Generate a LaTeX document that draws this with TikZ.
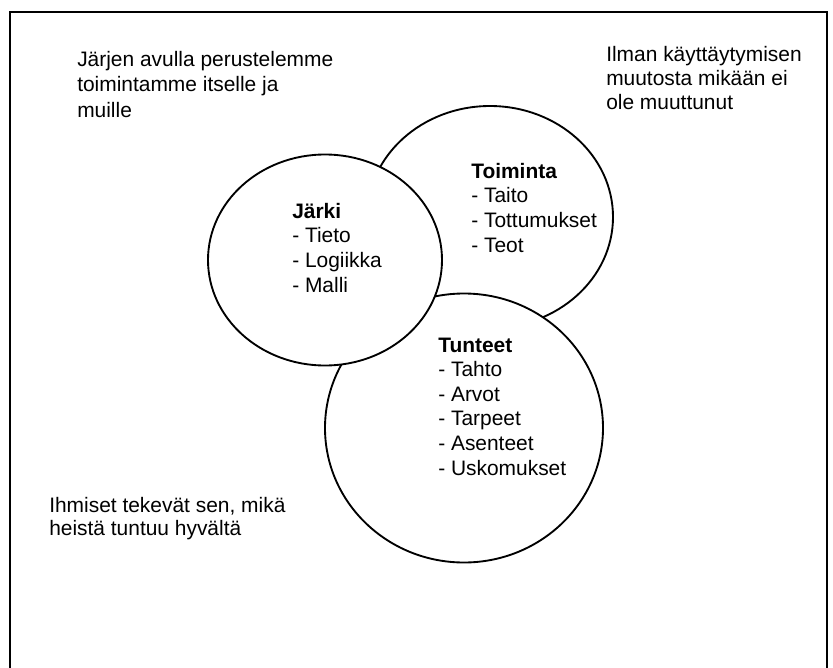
\documentclass[tikz,border=0pt]{standalone}
\usepackage{fontspec}
\setmainfont{Liberation Sans}
\usetikzlibrary{shapes.geometric}

\begin{document}
\begin{tikzpicture}[x=0.75pt,y=-0.75pt]

\tikzset{
    piiri/.style={ellipse, draw, fill=white, line width=1.4pt, inner sep=0pt},
    teksti/.style={anchor=base west, align=left, inner sep=0pt,
        font=\fontsize{15.7}{18.4}\selectfont}
}

\useasboundingbox (0,0) rectangle (833,668);
\draw[line width=1.7pt] (10,668) -- (10,12) -- (827,12) -- (827,668);

% ympyrat
\node[piiri, minimum width=184.5pt, minimum height=166.5pt] (toiminta) at (490,217) {};
\node[piiri, minimum width=208.5pt, minimum height=201.75pt] (tunteet) at (464,428) {};
\node[piiri, minimum width=175.5pt, minimum height=158.25pt] (jarki) at (325,260) {};

% ympyroiden sisallot (ankkuri viimeisen rivin kohdalla)
\node[teksti] (toimintalista) at (471,252)
    {\textbf{Toiminta}\\- Taito\\- Tottumukset\\- Teot};
\node[teksti] (jarkilista) at (292,292)
    {\textbf{Järki}\\- Tieto\\- Logiikka\\- Malli};
\node[teksti] (tunteetlista) at (438,475)
    {\textbf{Tunteet}\\- Tahto\\- Arvot\\- Tarpeet\\- Asenteet\\- Uskomukset};

% huomautukset
\node[teksti, font=\fontsize{15.7}{18.8}\selectfont] (jarkinote) at (77,117)
    {Järjen avulla perustelemme\\toimintamme itselle ja\\muille};
\node[teksti, font=\fontsize{15.7}{18}\selectfont] (toimintanote) at (606,109)
    {Ilman käyttäytymisen\\muutosta mikään ei\\ole muuttunut};
\node[teksti, font=\fontsize{15.7}{16.7}\selectfont] (tunteetnote) at (49,535)
    {Ihmiset tekevät sen, mikä\\heistä tuntuu hyvältä};

\end{tikzpicture}
\end{document}
